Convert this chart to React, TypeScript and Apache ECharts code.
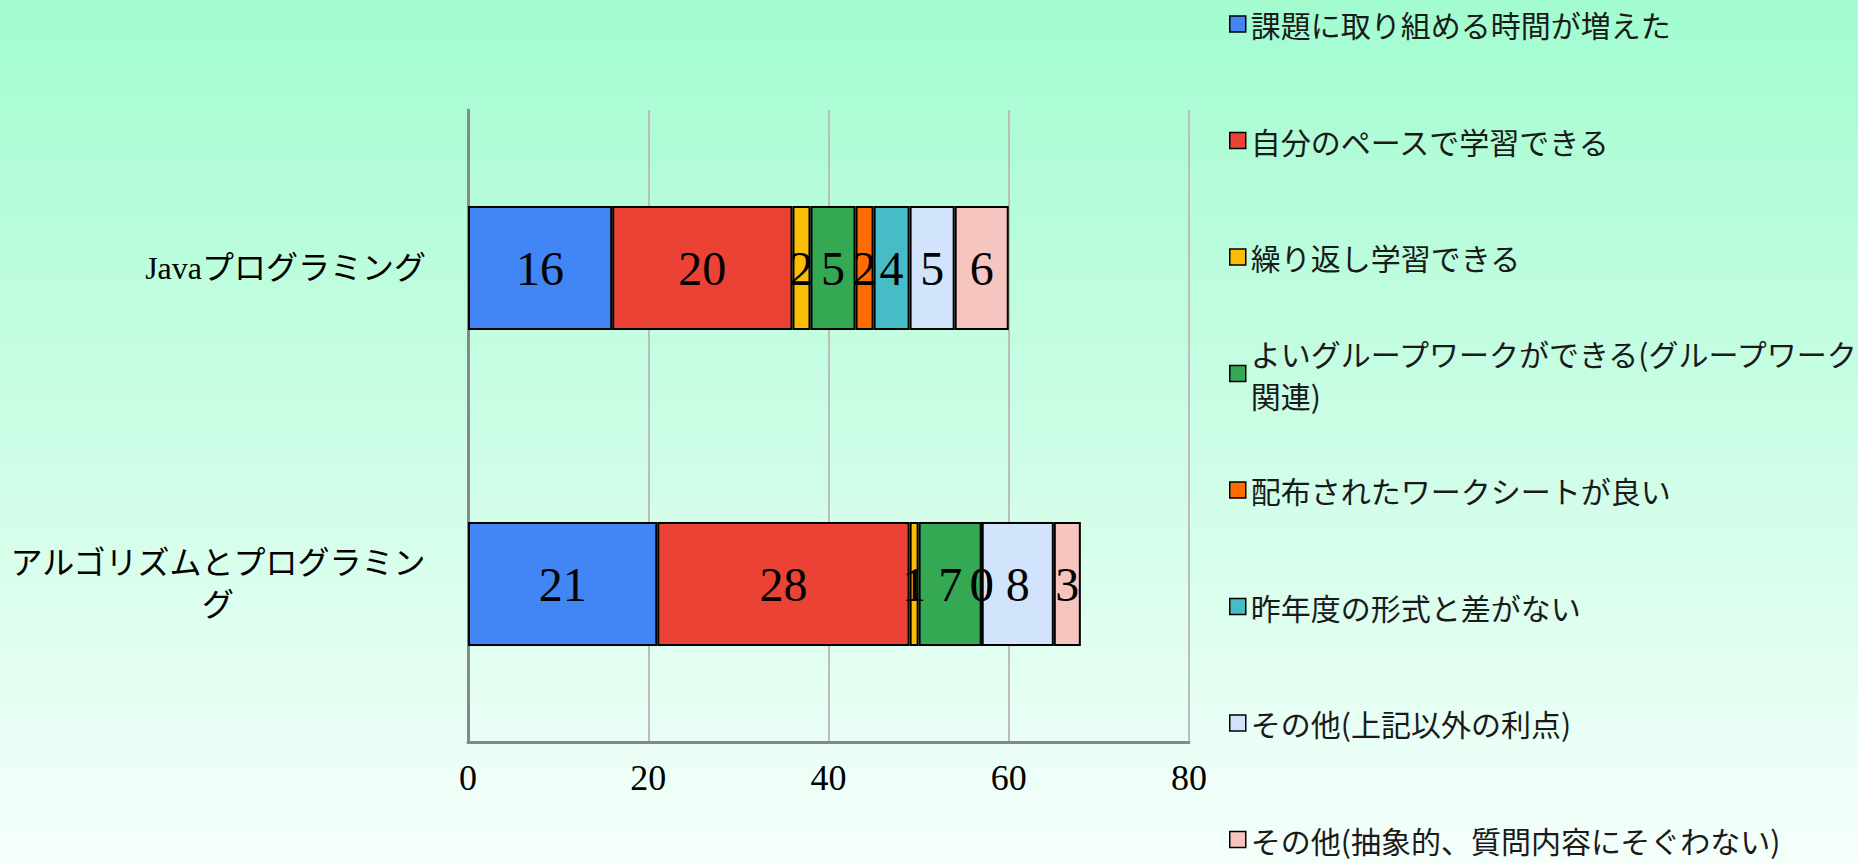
import React, { useEffect, useRef } from "react";
import * as echarts from "echarts";

// Courses (top to bottom) and the reasons given, one stacked segment each
const COURSES = ["Javaプログラミング", "アルゴリズムとプログラミング"];
const REASONS = [
  "課題に取り組める時間が増えた",
  "自分のペースで学習できる",
  "繰り返し学習できる",
  "よいグループワークができる(グループワーク関連)",
  "配布されたワークシートが良い",
  "昨年度の形式と差がない",
  "その他(上記以外の利点)",
  "その他(抽象的、質問内容にそぐわない)",
];
const JAVA_COUNTS = [16, 20, 2, 5, 2, 4, 5, 6];
const ALGO_COUNTS = [21, 28, 1, 7, 0, 0, 8, 3];
const X_TICKS = [0, 20, 40, 60, 80];

const COLORS = [
  "#4285F4",
  "#EA4335",
  "#FBBC04",
  "#34A853",
  "#FF6D01",
  "#46BDC6",
  "#D2E3FC",
  "#F7C5C0",
];

const SERIF = "'Liberation Serif', 'Noto Sans CJK JP', serif";
const GOTHIC = "'Noto Sans CJK JP', 'Liberation Sans', sans-serif";

// split a label into lines of at most `max` characters
function wrapLines(text: string, max: number): string[] {
  const chars = Array.from(text);
  const out: string[] = [];
  for (let i = 0; i < chars.length; i += max) out.push(chars.slice(i, i + max).join(""));
  return out;
}

const LEGEND_X = 1229;
const LEGEND_Y0 = 24;
const LEGEND_STEP = 116.5;
const LEGEND_LINE = 42;
const LEGEND_SINGLE_LINE = 30;
const LEGEND_CHARS = 21;
const AXIS_CHARS = 13;

export default function App() {
  const ref = useRef<HTMLDivElement>(null);

  useEffect(() => {
    if (!ref.current) return;
    const chart = echarts.init(ref.current, undefined, { renderer: "svg" });

    const legends = REASONS.map((name, i) => {
      const lines = wrapLines(name, LEGEND_CHARS);
      const n = lines.length;
      const lh = n > 1 ? LEGEND_LINE : LEGEND_SINGLE_LINE;
      return {
        data: [name],
        orient: "vertical",
        left: LEGEND_X,
        top: LEGEND_Y0 + LEGEND_STEP * i - ((2 * n - 1) * lh) / 2,
        padding: 0,
        itemWidth: 16,
        itemHeight: 16,
        icon: "rect",
        itemStyle: { borderColor: "#000", borderWidth: 1.5 },
        formatter: () => lines.join("\n"),
        textStyle: {
          fontSize: 30,
          lineHeight: lh,
          color: "#1a1a1a",
          fontFamily: GOTHIC,
          padding: [(n - 1) * lh, 0, 0, 0],
        },
      };
    });

    const series = REASONS.map((name, i) => ({
      name,
      type: "bar",
      stack: "total",
      barWidth: 124,
      data: [JAVA_COUNTS[i], ALGO_COUNTS[i]],
      itemStyle: { color: COLORS[i], borderColor: "#000", borderWidth: 2 },
      label: {
        show: true,
        position: "inside",
        fontFamily: SERIF,
        fontSize: 48,
        color: "#000",
      },
    }));

    chart.setOption({
      animation: false,
      backgroundColor: "transparent",
      grid: { left: 468, right: 669, top: 110, bottom: 121, containLabel: false },
      legend: legends,
      xAxis: {
        type: "value",
        min: X_TICKS[0],
        max: X_TICKS[X_TICKS.length - 1],
        interval: X_TICKS[1] - X_TICKS[0],
        axisLine: { show: true, lineStyle: { color: "#888", width: 3 } },
        axisTick: { show: false },
        splitLine: { show: true, lineStyle: { color: "#bcbcbc", width: 2 } },
        axisLabel: { fontFamily: SERIF, fontSize: 36, color: "#000", margin: 18 },
      },
      yAxis: {
        type: "category",
        data: COURSES,
        inverse: true,
        axisLine: { show: true, lineStyle: { color: "#888", width: 3 } },
        axisTick: { show: false },
        axisLabel: {
          margin: 42,
          align: "right",
          formatter: (v: string) =>
            wrapLines(v, AXIS_CHARS)
              .map((l) => `{c|${l}}`)
              .join("\n"),
          rich: {
            c: {
              align: "center",
              fontSize: 32,
              lineHeight: 42,
              fontFamily: SERIF,
              color: "#000",
            },
          },
        },
      },
      series,
    });

    return () => chart.dispose();
  }, []);

  return (
    <div
      ref={ref}
      style={{
        position: "absolute",
        left: 0,
        top: 0,
        width: "100vw",
        height: "100vh",
        background: "linear-gradient(to bottom, #a2fcd0, #f5fffb)",
      }}
    />
  );
}
